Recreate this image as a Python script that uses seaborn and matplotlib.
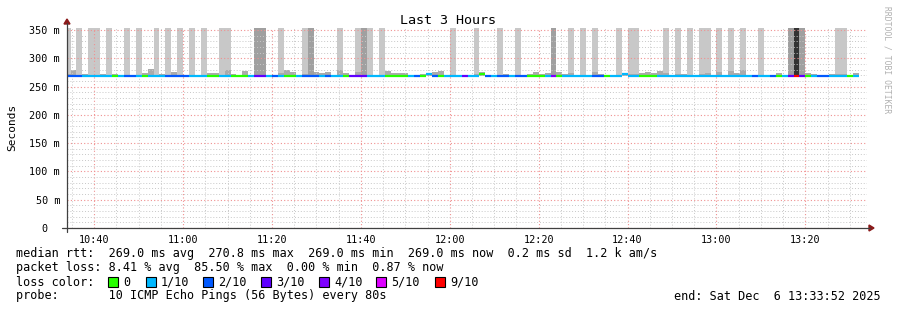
import numpy as np
import pandas as pd
import matplotlib
matplotlib.use("Agg")
import matplotlib.pyplot as plt
import seaborn as sns
from matplotlib.ticker import MultipleLocator, FuncFormatter
from matplotlib.lines import Line2D
from matplotlib.patches import Polygon, Rectangle

sns.set_theme(style="white")
plt.rcParams["font.family"] = ["DejaVu Sans Mono"]

# ---------------- data ----------------
window_start = 10 * 60 + 33 + 52 / 60      # 10:33:52 (minutes since midnight)
window_len = 180                            # last 3 hours
first_bin = 10 * 60 + 33 + 20 / 60          # 10:33:20
step = 80 / 60                              # 80 s per bin

loss = [2, 2, 2, 1, 1, 1, 1, 1, 0, 1,
        2, 2, 1, 0, 1, 1, 1, 2, 2, 2,
        2, 1, 1, 1, 0, 0, 1, 1, 0, 0,
        0, 1, 3, 3, 1, 2, 1, 0, 0, 1,
        2, 2, 2, 1, 2, 1, 1, 0, 3, 3,
        3, 1, 1, 1, 0, 0, 0, 0, 1, 2,
        0, 1, 2, 0, 1, 1, 1, 3, 1, 1,
        0, 2, 1, 2, 2, 1, 2, 2, 0, 0,
        0, 1, 4, 0, 1, 1, 1, 1, 1, 2,
        2, 0, 1, 1, 1, 1, 1, 0, 0, 0,
        1, 1, 1, 1, 1, 1, 1, 1, 1, 1,
        1, 1, 1, 1, 1, 1, 2, 1, 1, 2,
        0, 1, 3, 9, 3, 0, 1, 2, 2, 1,
        1, 1, 0, 1]

median = [269.0] * 134
for k in (61, 70, 94):
    median[k] = 272.5

smoke_top = [272, 279, 270, 272, 270, 270, 272, 270, 272, 270,
             270, 270, 270, 274, 281, 270, 272, 270, 276, 270,
             270, 270, 270, 270, 274, 274, 270, 279, 272, 270,
             277, 270, 272, 272, 270, 270, 274, 279, 276, 270,
             272, 274, 276, 274, 276, 270, 279, 274, 270, 276,
             276, 270, 270, 270, 277, 274, 274, 274, 270, 270,
             272, 274, 276, 277, 270, 270, 270, 270, 270, 272,
             276, 270, 270, 270, 272, 270, 270, 270, 272, 276,
             272, 274, 272, 276, 272, 274, 271, 270, 270, 276,
             272, 270, 270, 270, 271, 272, 272, 274, 276, 274,
             277, 274, 271, 272, 272, 270, 270, 272, 274, 270,
             276, 270, 277, 274, 279, 270, 270, 270, 270, 270,
             274, 270, 272, 272, 272, 274, 272, 270, 270, 272,
             272, 272, 270, 274]

# lost-ping smoke reaching the top: 0 none, 1 light, 2 medium, 3 dark
lost_smoke = [1, 0, 1, 0, 1, 1, 0, 1, 0, 0,
              1, 0, 1, 0, 0, 1, 0, 1, 0, 1,
              0, 1, 0, 1, 0, 0, 1, 1, 0, 0,
              0, 0, 2, 2, 0, 0, 1, 0, 0, 0,
              1, 2, 0, 0, 0, 0, 1, 0, 0, 1,
              2, 1, 0, 1, 0, 0, 0, 0, 0, 0,
              0, 0, 0, 0, 0, 1, 0, 0, 0, 1,
              0, 0, 0, 1, 0, 0, 1, 0, 0, 0,
              0, 0, 2, 0, 0, 1, 0, 1, 0, 1,
              0, 0, 0, 1, 0, 1, 1, 0, 0, 0,
              0, 1, 0, 1, 0, 1, 0, 1, 1, 0,
              1, 0, 1, 0, 1, 0, 0, 1, 0, 0,
              0, 0, 2, 3, 2, 0, 0, 0, 0, 0,
              1, 1, 0, 0]

loss_levels = [0, 1, 2, 3, 4, 5, 9]
loss_labels = ["0", "1/10", "2/10", "3/10", "4/10", "5/10", "9/10"]
loss_colors = ["#26ff00", "#00b8ff", "#0059ff", "#5e00ff", "#7e00ff", "#dd00ff", "#ff0000"]

stats_rtt = "median rtt:  269.0 ms avg  270.8 ms max  269.0 ms min  269.0 ms now  0.2 ms sd  1.2 k am/s"
stats_loss = "packet loss: 8.41 % avg  85.50 % max  0.00 % min  0.87 % now"
probe_txt = "probe:       10 ICMP Echo Pings (56 Bytes) every 80s"
end_txt = "end: Sat Dec  6 13:33:52 2025"

# ---------------- figure ----------------
W, H = 897, 310
fig = plt.figure(figsize=(W / 100, H / 100), dpi=100)
fig.patch.set_facecolor("white")

def fx(px):
    return px / W

def fy(py):
    return 1 - py / H

ax = fig.add_axes([fx(67), fy(228), (867 - 67) / W, 200 / H])
ax.set_facecolor("white")
ymax = 353.5
ax.set_xlim(window_start, window_start + window_len)
ax.set_ylim(0, ymax)

n = len(loss)
t0 = np.array([first_bin + k * step for k in range(n)])
base = 268.0

shade = {1: "#c8c8c8", 2: "#a0a0a0", 3: "#333333"}
for lvl, col in shade.items():
    idx = [k for k in range(n) if lost_smoke[k] == lvl]
    ax.bar(t0[idx], [ymax + 5 - base] * len(idx), bottom=base, width=step,
           align="edge", color=col, linewidth=0, zorder=1)

idx = [k for k in range(n) if lost_smoke[k] < 2]
ax.bar(t0[idx], [smoke_top[k] - base for k in idx], bottom=base, width=step,
       align="edge", color="#ababab", linewidth=0, zorder=1.2)

# median line coloured by loss
rows = []
for k in range(n):
    rows.append({"t": t0[k], "rtt": median[k], "loss": loss[k], "bin": k})
    rows.append({"t": t0[k] + step, "rtt": median[k], "loss": loss[k], "bin": k})
df = pd.DataFrame(rows)
pal = dict(zip(loss_levels, loss_colors))
sns.lineplot(data=df, x="t", y="rtt", hue="loss", units="bin", estimator=None,
             palette=pal, legend=False, linewidth=1.6, ax=ax, zorder=3,
             solid_capstyle="butt")

# grid
ax.xaxis.set_major_locator(MultipleLocator(20))
ax.xaxis.set_minor_locator(MultipleLocator(5))
ax.yaxis.set_major_locator(MultipleLocator(50))
ax.yaxis.set_minor_locator(MultipleLocator(10))
ax.set_axisbelow(False)
ax.grid(which="minor", color="#c8c8c8", linestyle=(0, (1, 2)), linewidth=0.7)
ax.grid(which="major", color="#f09090", linestyle=(0, (1, 2)), linewidth=0.8)

ax.xaxis.set_major_formatter(FuncFormatter(lambda v, p: f"{int(v // 60)}:{int(round(v % 60)):02d}"))
ax.yaxis.set_major_formatter(FuncFormatter(lambda v, p: "0  " if v == 0 else f"{int(round(v))} m"))
ax.tick_params(axis="both", which="major", length=3, width=0.7, color="#606060",
               direction="out", labelsize=7.3, pad=2, labelcolor="black")
ax.tick_params(axis="both", which="minor", length=1.5, width=0.6, color="#909090", direction="out")
ax.set_xlabel("")
ax.set_ylabel("")
for s in ax.spines.values():
    s.set_visible(False)

# axis lines with arrows
axc = "#404040"
arc = "#8b1a1a"
fig.add_artist(Line2D([fx(67), fx(67)], [fy(232), fy(23)], color=axc, lw=0.9))
fig.add_artist(Line2D([fx(62), fx(870)], [fy(228), fy(228)], color=axc, lw=0.9))
fig.add_artist(Polygon([(fx(64), fy(24)), (fx(70), fy(24)), (fx(67), fy(19))],
                       closed=True, color=arc, transform=fig.transFigure))
fig.add_artist(Polygon([(fx(869), fy(225)), (fx(869), fy(231)), (fx(874), fy(228))],
                       closed=True, color=arc, transform=fig.transFigure))

# texts
fig.text(fx(448), fy(20), "Last 3 Hours", ha="center", va="center", fontsize=9.6, color="black")
fig.text(fx(12), fy(127), "Seconds", rotation=90, ha="center", va="center", fontsize=8, color="black")
fig.text(fx(887), fy(60), "RRDTOOL / TOBI OETIKER", rotation=270, ha="center", va="center",
         fontsize=5.8, color="#b0b0b0")

fs = 8.5
fig.text(fx(16), fy(254), stats_rtt, ha="left", va="center", fontsize=fs, color="black")
fig.text(fx(16), fy(268), stats_loss, ha="left", va="center", fontsize=fs, color="black")
fig.text(fx(16), fy(282), "loss color:", ha="left", va="center", fontsize=fs, color="black")
box_x = [108, 146, 203, 261, 319, 376, 435]
for bx, lab, col in zip(box_x, loss_labels, loss_colors):
    fig.add_artist(Rectangle((fx(bx), fy(287)), 10 / W, 10 / H, transform=fig.transFigure,
                             facecolor=col, edgecolor="black", linewidth=0.8))
    fig.text(fx(bx + 15), fy(282), lab, ha="left", va="center", fontsize=fs, color="black")
fig.text(fx(16), fy(296), probe_txt, ha="left", va="center", fontsize=fs, color="black")
fig.text(fx(881), fy(296), end_txt, ha="right", va="center", fontsize=fs, color="black")

fig.savefig("out.png", dpi=100, facecolor="white")
